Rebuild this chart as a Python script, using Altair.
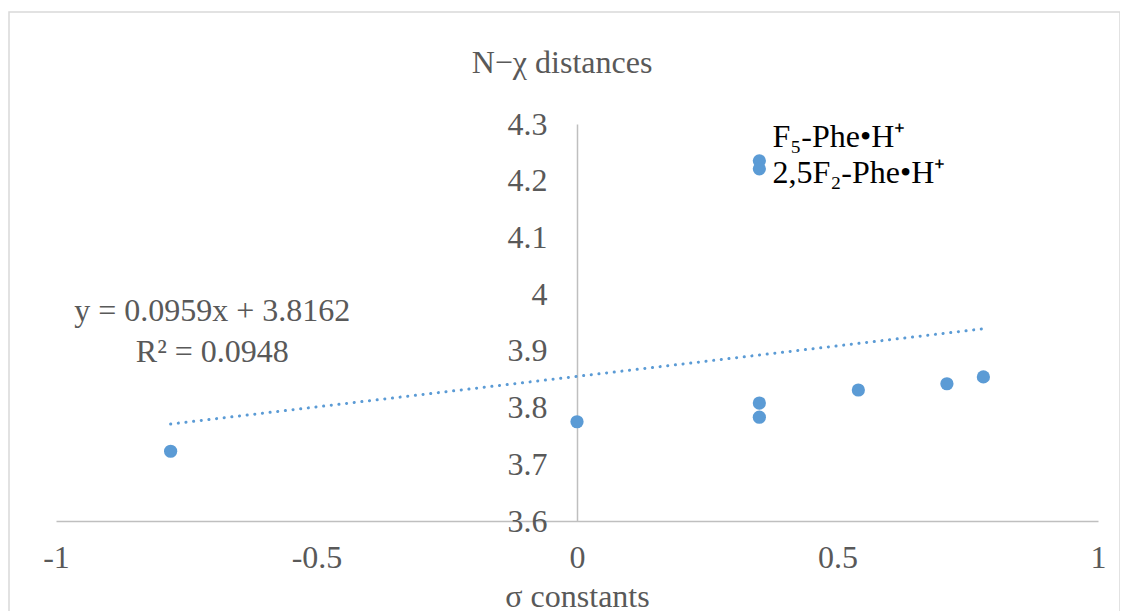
import altair as alt
import pandas as pd

# data
sigma = [-0.78, 0.0, 0.35, 0.35, 0.54, 0.71, 0.78, 0.35, 0.35]
dist = [3.723, 3.775, 3.783, 3.808, 3.831, 3.842, 3.854, 4.235, 4.221]

trend_x = [-0.78, 0.78]
trend_y = [3.771, 3.939]

eq_lines = ["y = 0.0959x + 3.8162", "R² = 0.0948"]
eq_x = [-0.70, -0.70]
eq_y = [3.970, 3.898]

lab_text = ["F₅-Phe•H⁺", "2,5F₂-Phe•H⁺"]
lab_x = [0.375, 0.375]
lab_y = [4.260, 4.196]

y_ticks = [3.6, 3.7, 3.8, 3.9, 4.0, 4.1, 4.2, 4.3]
x_ticks = [-1, -0.5, 0, 0.5, 1]

FONT = "Liberation Serif"
GREY = "#595959"
BLUE = "#5b9bd5"
FS = 32

pts = pd.DataFrame({"x": sigma, "y": dist})
trend = pd.DataFrame({"x": trend_x, "y": trend_y})
eq = pd.DataFrame({"x": eq_x, "y": eq_y, "t": eq_lines})
labs = pd.DataFrame({"x": lab_x, "y": lab_y, "t": lab_text})

xs = alt.Scale(domain=[-1, 1], nice=False, zero=False)
ys = alt.Scale(domain=[3.6, 4.3], nice=False, zero=False)

border = alt.Chart(pd.DataFrame({"a": [0]})).mark_rect(
    fillOpacity=0, stroke="#d9d9d9", strokeWidth=1.5
).encode(x=alt.value(-47), x2=alt.value(1064), y=alt.value(-112), y2=alt.value(520))

title = alt.Chart(pd.DataFrame({"a": [0]})).mark_text(
    text="N−χ distances", font=FONT, fontSize=FS, color=GREY, baseline="middle", align="center"
).encode(x=alt.value(506), y=alt.value(-61))

base_axes = alt.Chart(pts).mark_point(opacity=0).encode(
    x=alt.X("x:Q", scale=xs, axis=alt.Axis(
        values=x_ticks, labelExpr="toString(datum.value)", title="σ constants",
        grid=False, ticks=False, domainColor="#bfbfbf", domainWidth=1.5,
        labelFlush=False, labelOverlap=False,
        labelFont=FONT, labelFontSize=FS, labelColor=GREY, labelPadding=21,
        titleFont=FONT, titleFontSize=FS, titleColor=GREY, titleFontWeight="normal",
        titlePadding=8)),
    y=alt.Y("y:Q", scale=ys, axis=alt.Axis(
        values=y_ticks, labelExpr="toString(datum.value)", title=None,
        grid=False, ticks=False, domainColor="#bfbfbf", domainWidth=1.5,
        labelFlush=False, labelOverlap=False,
        offset=-521, labelFont=FONT, labelFontSize=FS, labelColor=GREY,
        labelPadding=30)),
)

line = alt.Chart(trend).mark_line(
    color=BLUE, strokeWidth=3, strokeDash=[0.1, 7.6], strokeCap="round"
).encode(x=alt.X("x:Q", scale=xs), y=alt.Y("y:Q", scale=ys))

points = alt.Chart(pts).mark_circle(color=BLUE, size=175, opacity=1).encode(
    x=alt.X("x:Q", scale=xs), y=alt.Y("y:Q", scale=ys))

eq_text = alt.Chart(eq).mark_text(
    font=FONT, fontSize=FS, color=GREY, align="center", baseline="middle"
).encode(x=alt.X("x:Q", scale=xs), y=alt.Y("y:Q", scale=ys), text="t:N")

lab_marks = alt.Chart(labs).mark_text(
    font=FONT, fontSize=FS, color="black", align="left", baseline="alphabetic"
).encode(x=alt.X("x:Q", scale=xs), y=alt.Y("y:Q", scale=ys), text="t:N")

chart = alt.layer(border, title, base_axes, line, points, eq_text, lab_marks).properties(
    width=1042, height=397,
    autosize=alt.AutoSizeParams(type="none"),
    padding={"left": 48, "top": 116, "right": 22, "bottom": 90},
).configure_view(stroke=None)

chart.save("out.html", embed_options={"renderer": "svg", "actions": False})
